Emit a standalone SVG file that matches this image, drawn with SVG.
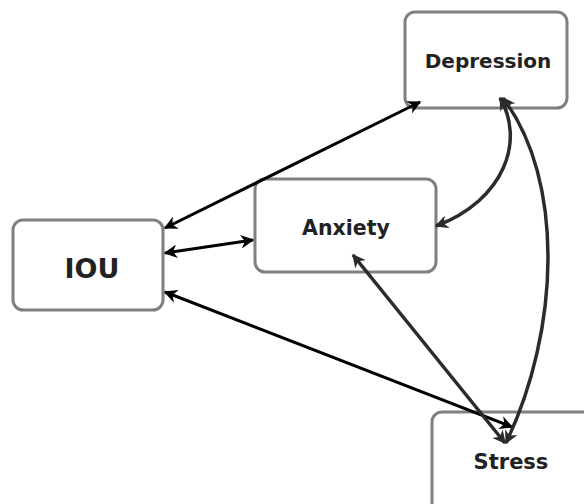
<svg xmlns="http://www.w3.org/2000/svg" width="584" height="504" viewBox="0 0 584 504">
<style>
.box{fill:#fff;stroke:#808080;stroke-width:3}
.lbl{font-family:"DejaVu Sans",Verdana,sans-serif;font-weight:bold;fill:#222;text-anchor:middle;dominant-baseline:central}
.blk{fill:none;stroke:#000;stroke-width:3;marker-start:url(#ab);marker-end:url(#ab)}
.gry{fill:none;stroke:#2b2b2b;stroke-width:3.5;marker-start:url(#ag);marker-end:url(#ag)}
</style>
<defs>
<marker id="ab" viewBox="0 0 10 10" refX="9" refY="5" markerWidth="4.5" markerHeight="4.5" orient="auto-start-reverse" markerUnits="strokeWidth"><path d="M0,0 L10,5 L0,10 L3,5 z" fill="#000"/></marker>
<marker id="ag" viewBox="0 0 10 10" refX="9" refY="5" markerWidth="3.8" markerHeight="3.8" orient="auto-start-reverse" markerUnits="strokeWidth"><path d="M0,0 L10,5 L0,10 L3,5 z" fill="#2b2b2b"/></marker>
</defs>
<g id="IOU"><rect class="box" x="13" y="220" width="150" height="90" rx="10"/><text class="lbl" x="92" y="268" font-size="27">IOU</text></g>
<g id="Anxiety"><rect class="box" x="255" y="179" width="181" height="93" rx="10"/><text class="lbl" x="346" y="228" font-size="20.5">Anxiety</text></g>
<g id="Depression"><rect class="box" x="405" y="12" width="162" height="96" rx="10"/><text class="lbl" x="488" y="61" font-size="20">Depression</text></g>
<g id="Stress"><rect class="box" x="432" y="412" width="170" height="110" rx="10"/><text class="lbl" x="511" y="462" font-size="21">Stress</text></g>
<g id="connectors">
<path class="blk" d="M165,228 L420,102"/>
<path class="blk" d="M165,253 L253,240"/>
<path class="blk" d="M165,292 L512,427"/>
<path class="gry" d="M353,255 L505,443"/>
<path class="gry" d="M500,98 C525,140 505,200 436,226"/>
<path class="gry" d="M503,98 C565,180 560,330 506,443"/>
</g>
</svg>
